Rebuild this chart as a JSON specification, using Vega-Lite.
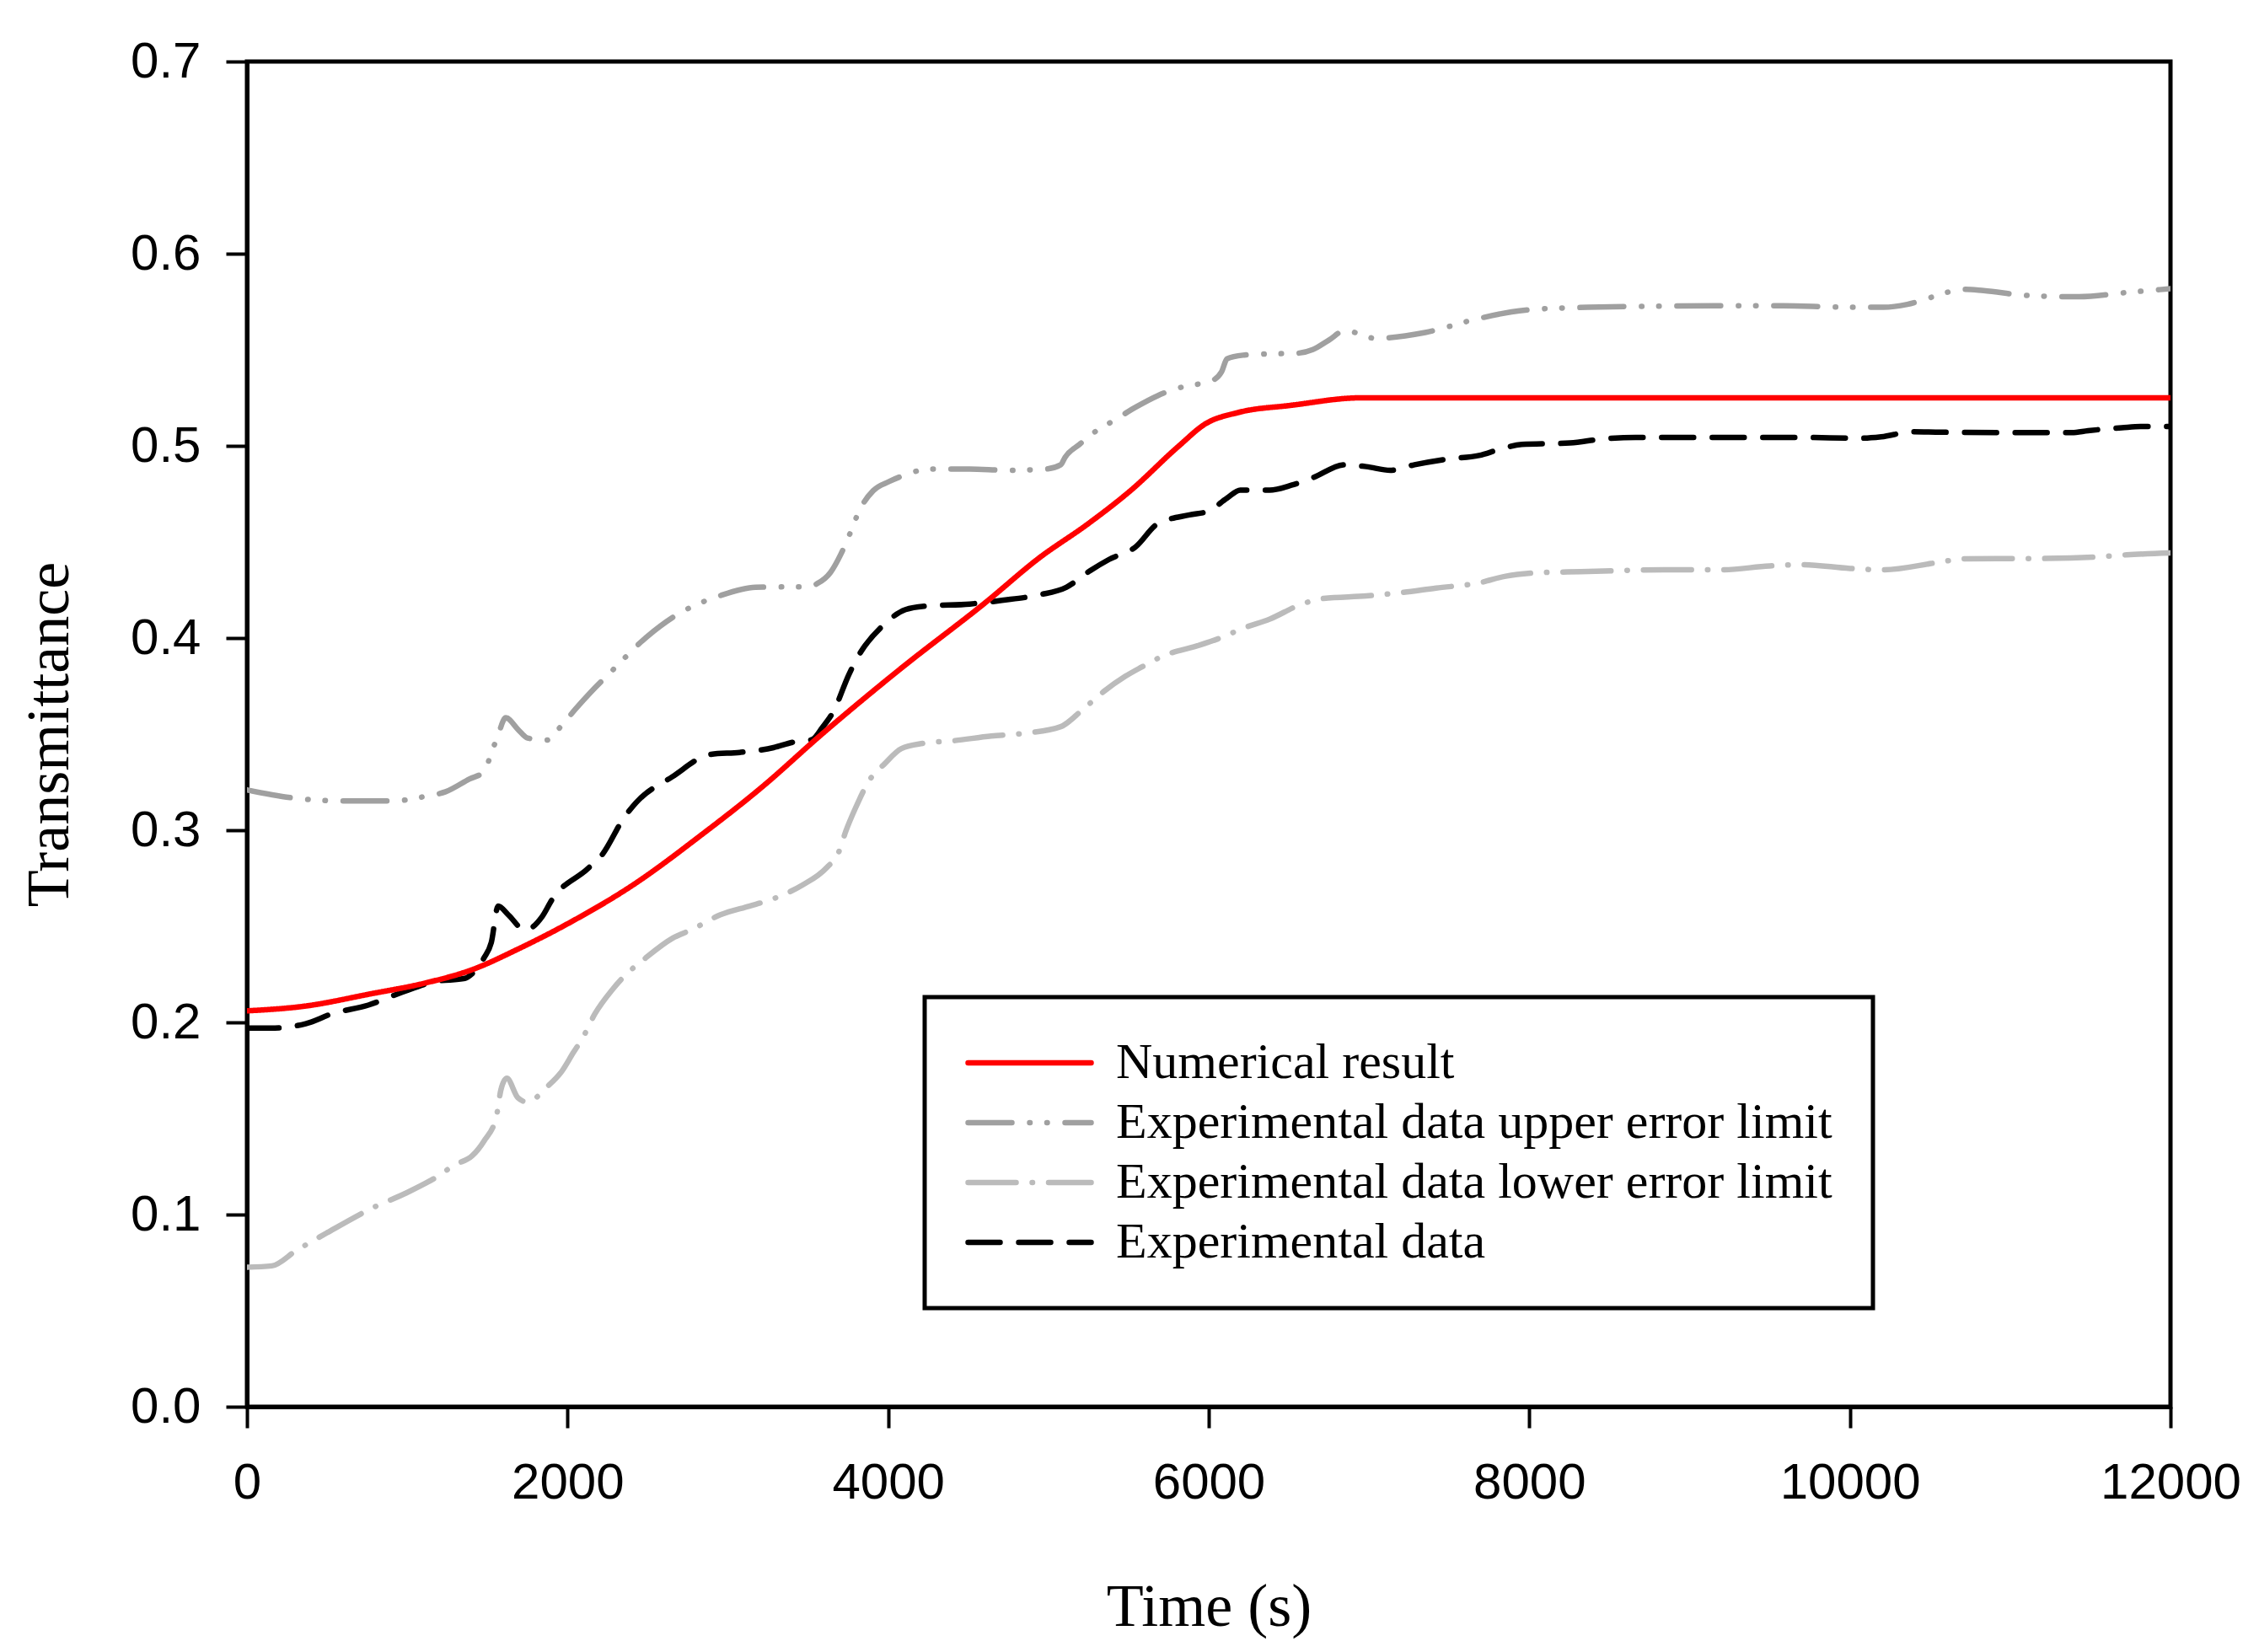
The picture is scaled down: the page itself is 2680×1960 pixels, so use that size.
{
  "$schema": "https://vega.github.io/schema/vega-lite/v6.json",
  "autosize": {"type": "none"},
  "width": 2282,
  "height": 1596,
  "padding": {"left": 293, "top": 73, "right": 105, "bottom": 291},
  "background": "white",
  "config": {
    "view": {"stroke": "black", "strokeWidth": 5},
    "axis": {
      "grid": false,
      "domainColor": "black",
      "domainWidth": 5,
      "tickColor": "black",
      "tickWidth": 4,
      "tickSize": 25,
      "labelFont": "Liberation Sans",
      "labelFontSize": 60,
      "labelColor": "black",
      "labelFlush": false,
      "labelOverlap": false,
      "titleFont": "Liberation Serif",
      "titleFontSize": 72,
      "titleFontWeight": "normal",
      "titleColor": "black"
    }
  },
  "data": {
    "values": [
      {"s": "Experimental data upper error limit", "t": 0, "v": 0.321},
      {"s": "Experimental data upper error limit", "t": 306, "v": 0.3166},
      {"s": "Experimental data upper error limit", "t": 607, "v": 0.3152},
      {"s": "Experimental data upper error limit", "t": 908, "v": 0.3152},
      {"s": "Experimental data upper error limit", "t": 1118, "v": 0.3177},
      {"s": "Experimental data upper error limit", "t": 1239, "v": 0.32},
      {"s": "Experimental data upper error limit", "t": 1389, "v": 0.3267},
      {"s": "Experimental data upper error limit", "t": 1479, "v": 0.3305},
      {"s": "Experimental data upper error limit", "t": 1524, "v": 0.34},
      {"s": "Experimental data upper error limit", "t": 1564, "v": 0.349},
      {"s": "Experimental data upper error limit", "t": 1615, "v": 0.3585},
      {"s": "Experimental data upper error limit", "t": 1690, "v": 0.3525},
      {"s": "Experimental data upper error limit", "t": 1750, "v": 0.348},
      {"s": "Experimental data upper error limit", "t": 1871, "v": 0.3469},
      {"s": "Experimental data upper error limit", "t": 1961, "v": 0.3543},
      {"s": "Experimental data upper error limit", "t": 2051, "v": 0.3632},
      {"s": "Experimental data upper error limit", "t": 2141, "v": 0.3715},
      {"s": "Experimental data upper error limit", "t": 2261, "v": 0.3816},
      {"s": "Experimental data upper error limit", "t": 2500, "v": 0.401},
      {"s": "Experimental data upper error limit", "t": 2680, "v": 0.412},
      {"s": "Experimental data upper error limit", "t": 2950, "v": 0.422},
      {"s": "Experimental data upper error limit", "t": 3172, "v": 0.4264},
      {"s": "Experimental data upper error limit", "t": 3506, "v": 0.4268},
      {"s": "Experimental data upper error limit", "t": 3557, "v": 0.4283},
      {"s": "Experimental data upper error limit", "t": 3640, "v": 0.4341},
      {"s": "Experimental data upper error limit", "t": 3706, "v": 0.4438},
      {"s": "Experimental data upper error limit", "t": 3757, "v": 0.4534},
      {"s": "Experimental data upper error limit", "t": 3824, "v": 0.467},
      {"s": "Experimental data upper error limit", "t": 3907, "v": 0.4767},
      {"s": "Experimental data upper error limit", "t": 4008, "v": 0.4815},
      {"s": "Experimental data upper error limit", "t": 4125, "v": 0.4854},
      {"s": "Experimental data upper error limit", "t": 4242, "v": 0.4879},
      {"s": "Experimental data upper error limit", "t": 4509, "v": 0.4879},
      {"s": "Experimental data upper error limit", "t": 4743, "v": 0.4873},
      {"s": "Experimental data upper error limit", "t": 4977, "v": 0.4879},
      {"s": "Experimental data upper error limit", "t": 5077, "v": 0.4902},
      {"s": "Experimental data upper error limit", "t": 5104, "v": 0.4941},
      {"s": "Experimental data upper error limit", "t": 5194, "v": 0.5008},
      {"s": "Experimental data upper error limit", "t": 5295, "v": 0.5076},
      {"s": "Experimental data upper error limit", "t": 5412, "v": 0.5134},
      {"s": "Experimental data upper error limit", "t": 5546, "v": 0.5202},
      {"s": "Experimental data upper error limit", "t": 5679, "v": 0.526},
      {"s": "Experimental data upper error limit", "t": 5796, "v": 0.5298},
      {"s": "Experimental data upper error limit", "t": 5913, "v": 0.5318},
      {"s": "Experimental data upper error limit", "t": 6014, "v": 0.5337},
      {"s": "Experimental data upper error limit", "t": 6080, "v": 0.5385},
      {"s": "Experimental data upper error limit", "t": 6114, "v": 0.5453},
      {"s": "Experimental data upper error limit", "t": 6214, "v": 0.5472},
      {"s": "Experimental data upper error limit", "t": 6348, "v": 0.5478},
      {"s": "Experimental data upper error limit", "t": 6549, "v": 0.5482},
      {"s": "Experimental data upper error limit", "t": 6649, "v": 0.5501},
      {"s": "Experimental data upper error limit", "t": 6749, "v": 0.555},
      {"s": "Experimental data upper error limit", "t": 6850, "v": 0.56},
      {"s": "Experimental data upper error limit", "t": 7040, "v": 0.556},
      {"s": "Experimental data upper error limit", "t": 7350, "v": 0.559},
      {"s": "Experimental data upper error limit", "t": 7670, "v": 0.566},
      {"s": "Experimental data upper error limit", "t": 7890, "v": 0.5697},
      {"s": "Experimental data upper error limit", "t": 8039, "v": 0.5711},
      {"s": "Experimental data upper error limit", "t": 8366, "v": 0.5721},
      {"s": "Experimental data upper error limit", "t": 8663, "v": 0.5726},
      {"s": "Experimental data upper error limit", "t": 9288, "v": 0.5729},
      {"s": "Experimental data upper error limit", "t": 9585, "v": 0.5729},
      {"s": "Experimental data upper error limit", "t": 9897, "v": 0.5723},
      {"s": "Experimental data upper error limit", "t": 10209, "v": 0.5721},
      {"s": "Experimental data upper error limit", "t": 10358, "v": 0.5736},
      {"s": "Experimental data upper error limit", "t": 10507, "v": 0.5773},
      {"s": "Experimental data upper error limit", "t": 10611, "v": 0.58},
      {"s": "Experimental data upper error limit", "t": 10715, "v": 0.5815},
      {"s": "Experimental data upper error limit", "t": 10834, "v": 0.5808},
      {"s": "Experimental data upper error limit", "t": 11116, "v": 0.5782},
      {"s": "Experimental data upper error limit", "t": 11429, "v": 0.5776},
      {"s": "Experimental data upper error limit", "t": 11726, "v": 0.5798},
      {"s": "Experimental data upper error limit", "t": 12000, "v": 0.5818},

      {"s": "Experimental data lower error limit", "t": 0, "v": 0.0726},
      {"s": "Experimental data lower error limit", "t": 155, "v": 0.0733},
      {"s": "Experimental data lower error limit", "t": 306, "v": 0.0812},
      {"s": "Experimental data lower error limit", "t": 501, "v": 0.0906},
      {"s": "Experimental data lower error limit", "t": 787, "v": 0.1036},
      {"s": "Experimental data lower error limit", "t": 998, "v": 0.1114},
      {"s": "Experimental data lower error limit", "t": 1178, "v": 0.1193},
      {"s": "Experimental data lower error limit", "t": 1299, "v": 0.126},
      {"s": "Experimental data lower error limit", "t": 1404, "v": 0.1305},
      {"s": "Experimental data lower error limit", "t": 1479, "v": 0.1383},
      {"s": "Experimental data lower error limit", "t": 1555, "v": 0.1507},
      {"s": "Experimental data lower error limit", "t": 1585, "v": 0.1652},
      {"s": "Experimental data lower error limit", "t": 1621, "v": 0.1709},
      {"s": "Experimental data lower error limit", "t": 1690, "v": 0.1608},
      {"s": "Experimental data lower error limit", "t": 1750, "v": 0.1585},
      {"s": "Experimental data lower error limit", "t": 1871, "v": 0.1664},
      {"s": "Experimental data lower error limit", "t": 1961, "v": 0.1742},
      {"s": "Experimental data lower error limit", "t": 2036, "v": 0.1843},
      {"s": "Experimental data lower error limit", "t": 2096, "v": 0.1922},
      {"s": "Experimental data lower error limit", "t": 2171, "v": 0.2045},
      {"s": "Experimental data lower error limit", "t": 2277, "v": 0.2168},
      {"s": "Experimental data lower error limit", "t": 2367, "v": 0.2251},
      {"s": "Experimental data lower error limit", "t": 2472, "v": 0.2325},
      {"s": "Experimental data lower error limit", "t": 2653, "v": 0.2437},
      {"s": "Experimental data lower error limit", "t": 2773, "v": 0.2482},
      {"s": "Experimental data lower error limit", "t": 2954, "v": 0.256},
      {"s": "Experimental data lower error limit", "t": 3134, "v": 0.2605},
      {"s": "Experimental data lower error limit", "t": 3255, "v": 0.2635},
      {"s": "Experimental data lower error limit", "t": 3375, "v": 0.2675},
      {"s": "Experimental data lower error limit", "t": 3466, "v": 0.2715},
      {"s": "Experimental data lower error limit", "t": 3616, "v": 0.2805},
      {"s": "Experimental data lower error limit", "t": 3691, "v": 0.2885},
      {"s": "Experimental data lower error limit", "t": 3736, "v": 0.2995},
      {"s": "Experimental data lower error limit", "t": 3796, "v": 0.3115},
      {"s": "Experimental data lower error limit", "t": 3887, "v": 0.3265},
      {"s": "Experimental data lower error limit", "t": 3977, "v": 0.3345},
      {"s": "Experimental data lower error limit", "t": 4083, "v": 0.3425},
      {"s": "Experimental data lower error limit", "t": 4218, "v": 0.3452},
      {"s": "Experimental data lower error limit", "t": 4400, "v": 0.3465},
      {"s": "Experimental data lower error limit", "t": 4643, "v": 0.349},
      {"s": "Experimental data lower error limit", "t": 4843, "v": 0.3504},
      {"s": "Experimental data lower error limit", "t": 5077, "v": 0.3539},
      {"s": "Experimental data lower error limit", "t": 5211, "v": 0.3626},
      {"s": "Experimental data lower error limit", "t": 5345, "v": 0.3722},
      {"s": "Experimental data lower error limit", "t": 5478, "v": 0.38},
      {"s": "Experimental data lower error limit", "t": 5579, "v": 0.3848},
      {"s": "Experimental data lower error limit", "t": 5713, "v": 0.3906},
      {"s": "Experimental data lower error limit", "t": 5947, "v": 0.3964},
      {"s": "Experimental data lower error limit", "t": 6080, "v": 0.4003},
      {"s": "Experimental data lower error limit", "t": 6214, "v": 0.4051},
      {"s": "Experimental data lower error limit", "t": 6381, "v": 0.4099},
      {"s": "Experimental data lower error limit", "t": 6582, "v": 0.4177},
      {"s": "Experimental data lower error limit", "t": 6716, "v": 0.4206},
      {"s": "Experimental data lower error limit", "t": 6983, "v": 0.4219},
      {"s": "Experimental data lower error limit", "t": 7184, "v": 0.4235},
      {"s": "Experimental data lower error limit", "t": 7418, "v": 0.426},
      {"s": "Experimental data lower error limit", "t": 7686, "v": 0.4287},
      {"s": "Experimental data lower error limit", "t": 7853, "v": 0.4322},
      {"s": "Experimental data lower error limit", "t": 8087, "v": 0.4341},
      {"s": "Experimental data lower error limit", "t": 8320, "v": 0.4345},
      {"s": "Experimental data lower error limit", "t": 8841, "v": 0.4355},
      {"s": "Experimental data lower error limit", "t": 9198, "v": 0.4355},
      {"s": "Experimental data lower error limit", "t": 9496, "v": 0.4375},
      {"s": "Experimental data lower error limit", "t": 9704, "v": 0.4382},
      {"s": "Experimental data lower error limit", "t": 10001, "v": 0.4362},
      {"s": "Experimental data lower error limit", "t": 10209, "v": 0.4355},
      {"s": "Experimental data lower error limit", "t": 10507, "v": 0.4388},
      {"s": "Experimental data lower error limit", "t": 10611, "v": 0.4402},
      {"s": "Experimental data lower error limit", "t": 10715, "v": 0.4412},
      {"s": "Experimental data lower error limit", "t": 11220, "v": 0.4414},
      {"s": "Experimental data lower error limit", "t": 11518, "v": 0.4421},
      {"s": "Experimental data lower error limit", "t": 11726, "v": 0.4433},
      {"s": "Experimental data lower error limit", "t": 12000, "v": 0.4443},

      {"s": "Experimental data", "t": 0, "v": 0.197},
      {"s": "Experimental data", "t": 150, "v": 0.197},
      {"s": "Experimental data", "t": 366, "v": 0.1993},
      {"s": "Experimental data", "t": 531, "v": 0.2045},
      {"s": "Experimental data", "t": 757, "v": 0.209},
      {"s": "Experimental data", "t": 968, "v": 0.2157},
      {"s": "Experimental data", "t": 1178, "v": 0.2213},
      {"s": "Experimental data", "t": 1359, "v": 0.2229},
      {"s": "Experimental data", "t": 1404, "v": 0.2253},
      {"s": "Experimental data", "t": 1479, "v": 0.2336},
      {"s": "Experimental data", "t": 1524, "v": 0.2415},
      {"s": "Experimental data", "t": 1567, "v": 0.2605},
      {"s": "Experimental data", "t": 1630, "v": 0.256},
      {"s": "Experimental data", "t": 1735, "v": 0.248},
      {"s": "Experimental data", "t": 1841, "v": 0.255},
      {"s": "Experimental data", "t": 1904, "v": 0.264},
      {"s": "Experimental data", "t": 2126, "v": 0.28},
      {"s": "Experimental data", "t": 2217, "v": 0.2874},
      {"s": "Experimental data", "t": 2352, "v": 0.3065},
      {"s": "Experimental data", "t": 2427, "v": 0.3143},
      {"s": "Experimental data", "t": 2653, "v": 0.3278},
      {"s": "Experimental data", "t": 2894, "v": 0.3395},
      {"s": "Experimental data", "t": 3075, "v": 0.3405},
      {"s": "Experimental data", "t": 3285, "v": 0.343},
      {"s": "Experimental data", "t": 3406, "v": 0.3458},
      {"s": "Experimental data", "t": 3526, "v": 0.3472},
      {"s": "Experimental data", "t": 3590, "v": 0.3535},
      {"s": "Experimental data", "t": 3660, "v": 0.362},
      {"s": "Experimental data", "t": 3755, "v": 0.381},
      {"s": "Experimental data", "t": 3807, "v": 0.3896},
      {"s": "Experimental data", "t": 3974, "v": 0.407},
      {"s": "Experimental data", "t": 4108, "v": 0.4148},
      {"s": "Experimental data", "t": 4242, "v": 0.4167},
      {"s": "Experimental data", "t": 4509, "v": 0.4177},
      {"s": "Experimental data", "t": 4710, "v": 0.4196},
      {"s": "Experimental data", "t": 4944, "v": 0.4225},
      {"s": "Experimental data", "t": 5111, "v": 0.4264},
      {"s": "Experimental data", "t": 5261, "v": 0.4351},
      {"s": "Experimental data", "t": 5378, "v": 0.4409},
      {"s": "Experimental data", "t": 5546, "v": 0.4476},
      {"s": "Experimental data", "t": 5679, "v": 0.4593},
      {"s": "Experimental data", "t": 5880, "v": 0.4641},
      {"s": "Experimental data", "t": 5997, "v": 0.466},
      {"s": "Experimental data", "t": 6114, "v": 0.4728},
      {"s": "Experimental data", "t": 6197, "v": 0.477},
      {"s": "Experimental data", "t": 6381, "v": 0.477},
      {"s": "Experimental data", "t": 6515, "v": 0.4795},
      {"s": "Experimental data", "t": 6649, "v": 0.4834},
      {"s": "Experimental data", "t": 6849, "v": 0.4902},
      {"s": "Experimental data", "t": 6983, "v": 0.4892},
      {"s": "Experimental data", "t": 7133, "v": 0.4873},
      {"s": "Experimental data", "t": 7284, "v": 0.4902},
      {"s": "Experimental data", "t": 7485, "v": 0.4931},
      {"s": "Experimental data", "t": 7686, "v": 0.495},
      {"s": "Experimental data", "t": 7819, "v": 0.4983},
      {"s": "Experimental data", "t": 7953, "v": 0.5008},
      {"s": "Experimental data", "t": 8254, "v": 0.5015},
      {"s": "Experimental data", "t": 8455, "v": 0.5036},
      {"s": "Experimental data", "t": 8663, "v": 0.5044},
      {"s": "Experimental data", "t": 8990, "v": 0.5044},
      {"s": "Experimental data", "t": 9674, "v": 0.5044},
      {"s": "Experimental data", "t": 10075, "v": 0.504},
      {"s": "Experimental data", "t": 10195, "v": 0.5047},
      {"s": "Experimental data", "t": 10388, "v": 0.5073},
      {"s": "Experimental data", "t": 10567, "v": 0.5071},
      {"s": "Experimental data", "t": 11161, "v": 0.5069},
      {"s": "Experimental data", "t": 11384, "v": 0.5069},
      {"s": "Experimental data", "t": 11486, "v": 0.5079},
      {"s": "Experimental data", "t": 11696, "v": 0.5094},
      {"s": "Experimental data", "t": 11814, "v": 0.5101},
      {"s": "Experimental data", "t": 12000, "v": 0.5101},

      {"s": "Numerical result", "t": 0, "v": 0.206},
      {"s": "Numerical result", "t": 366, "v": 0.2085},
      {"s": "Numerical result", "t": 757, "v": 0.2146},
      {"s": "Numerical result", "t": 1118, "v": 0.2206},
      {"s": "Numerical result", "t": 1404, "v": 0.2274},
      {"s": "Numerical result", "t": 1690, "v": 0.2381},
      {"s": "Numerical result", "t": 1991, "v": 0.2509},
      {"s": "Numerical result", "t": 2412, "v": 0.2717},
      {"s": "Numerical result", "t": 2834, "v": 0.2975},
      {"s": "Numerical result", "t": 3225, "v": 0.3233},
      {"s": "Numerical result", "t": 3573, "v": 0.349},
      {"s": "Numerical result", "t": 4074, "v": 0.3838},
      {"s": "Numerical result", "t": 4609, "v": 0.4186},
      {"s": "Numerical result", "t": 4944, "v": 0.4418},
      {"s": "Numerical result", "t": 5245, "v": 0.4593},
      {"s": "Numerical result", "t": 5512, "v": 0.4767},
      {"s": "Numerical result", "t": 5813, "v": 0.4999},
      {"s": "Numerical result", "t": 5980, "v": 0.5115},
      {"s": "Numerical result", "t": 6181, "v": 0.5173},
      {"s": "Numerical result", "t": 6515, "v": 0.5211},
      {"s": "Numerical result", "t": 6950, "v": 0.525},
      {"s": "Numerical result", "t": 8000, "v": 0.525},
      {"s": "Numerical result", "t": 10000, "v": 0.525},
      {"s": "Numerical result", "t": 12000, "v": 0.525}
    ]
  },
  "mark": {"type": "line", "strokeWidth": 6.5, "strokeCap": "round", "strokeJoin": "round", "interpolate": "monotone", "clip": true},
  "encoding": {
    "x": {
      "field": "t", "type": "quantitative",
      "scale": {"domain": [0, 12000], "nice": false, "zero": false},
      "axis": {"values": [0, 2000, 4000, 6000, 8000, 10000, 12000], "format": "d", "labelPadding": 36, "title": "Time (s)", "titleBaseline": "alphabetic", "titleY": 259}
    },
    "y": {
      "field": "v", "type": "quantitative",
      "scale": {"domain": [0, 0.7], "nice": false},
      "axis": {"values": [0, 0.1, 0.2, 0.3, 0.4, 0.5, 0.6, 0.7], "format": ".1f", "labelPadding": 30, "title": "Transmittance", "titleBaseline": "alphabetic", "titleX": -213}
    },
    "color": {
      "field": "s", "type": "nominal",
      "scale": {
        "domain": ["Numerical result", "Experimental data upper error limit", "Experimental data lower error limit", "Experimental data"],
        "range": ["#ff0000", "#a0a0a0", "#bbbbbb", "#000000"]
      },
      "legend": {
        "orient": "none", "legendX": 804, "legendY": 1110,
        "title": null,
        "symbolType": "stroke", "symbolSize": 21316, "symbolStrokeWidth": 6.5,
        "labelFont": "Liberation Serif", "labelFontSize": 60, "labelColor": "black", "labelLimit": 2000,
        "labelOffset": 26, "clipHeight": 60, "rowPadding": 11,
        "padding": 48, "strokeColor": "black",
        "encode": {
          "legend": {"update": {"strokeWidth": {"value": 5}}},
          "symbols": {"update": {"strokeCap": {"value": "round"}}}
        }
      }
    },
    "strokeDash": {
      "field": "s", "type": "nominal",
      "scale": {
        "domain": ["Numerical result", "Experimental data upper error limit", "Experimental data lower error limit", "Experimental data"],
        "range": [[1, 0], [52, 21, 0.5, 20, 0.5, 21], [57, 19, 0.5, 19], [38, 22]]
      },
      "legend": {
        "orient": "none", "legendX": 804, "legendY": 1110,
        "title": null,
        "symbolType": "stroke", "symbolSize": 21316, "symbolStrokeWidth": 6.5,
        "labelFont": "Liberation Serif", "labelFontSize": 60, "labelColor": "black", "labelLimit": 2000,
        "labelOffset": 26, "clipHeight": 60, "rowPadding": 11,
        "padding": 48, "strokeColor": "black",
        "encode": {
          "legend": {"update": {"strokeWidth": {"value": 5}}},
          "symbols": {"update": {"strokeCap": {"value": "round"}}}
        }
      }
    }
  }
}
